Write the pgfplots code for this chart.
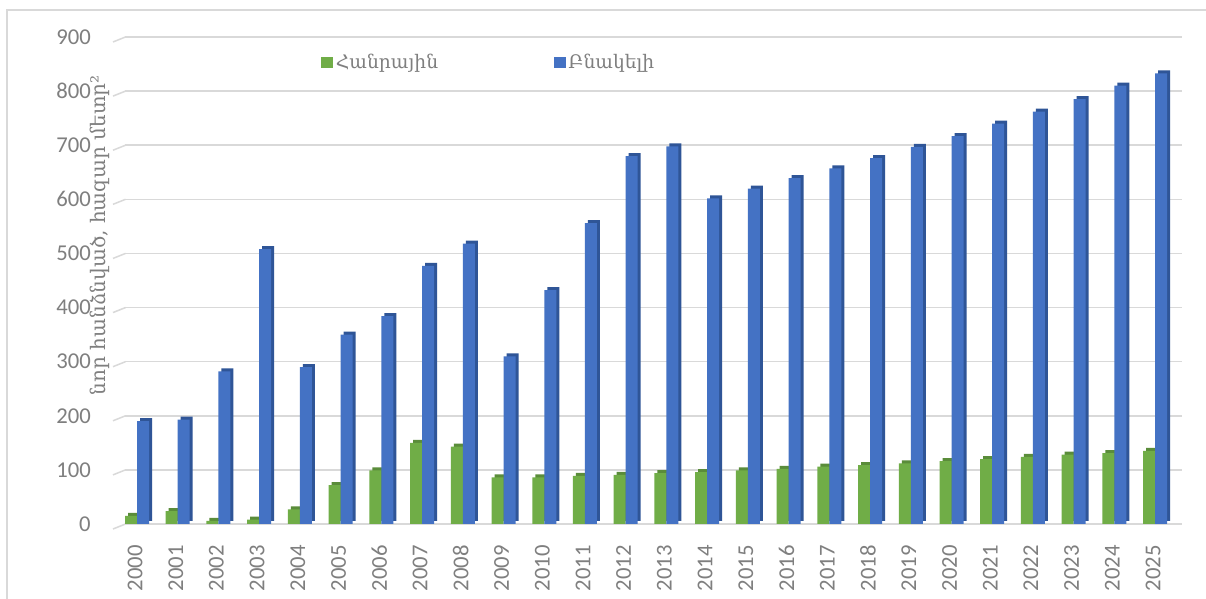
\documentclass[border=0pt]{standalone}
\usepackage{fontspec}
\setmainfont{Carlito}
\newfontfamily\armfont{DejaVu Serif}
\usepackage{pgfplots}
\usepackage{pgfplotstable}
\pgfplotsset{compat=1.18}
\newlength\px \setlength\px{0.75pt}
\definecolor{cgreen}{HTML}{70AD47}
\definecolor{cgreenD}{HTML}{5A8C3A}
\definecolor{cblue}{HTML}{4472C4}
\definecolor{cblueD}{HTML}{2F5597}
\definecolor{cgrid}{HTML}{D9D9D9}
\definecolor{ctxt}{HTML}{7F7F7F}

\pgfplotstableread{
x g b
0 15 190
1 24 193
2 6 282
3 8 508
4 27 290
5 72 350
6 99 384
7 150 477
8 143 518
9 86 310
10 86 432
11 89 556
12 91 680
13 94 698
14 96 602
15 99 620
16 102 639
17 106 657
18 109 676
19 112 697
20 116 717
21 120 740
22 124 762
23 128 785
24 131 810
25 135 833
}\data

\begin{document}
\begin{tikzpicture}
\useasboundingbox (0,0) rectangle (1206\px,599\px);
\fill[white] (0,0) rectangle (1206\px,599\px);
\draw[cgrid, line width=1.5\px] (7\px,0) -- (7\px,589\px) -- (1206\px,589\px);
\foreach \k in {0,...,9} {
  \draw[cgrid, line width=1.5\px] (113\px, {(75+\k*487/9-5)*0.75pt}) -- (125.5\px, {(75+\k*487/9)*0.75pt});
}
\begin{axis}[
  at={(125\px,75\px)}, anchor=south west,
  width=1057\px, height=487\px, scale only axis,
  xmin=-0.295, xmax=25.66, ymin=0, ymax=900,
  axis line style={draw=none},
  major tick length=0pt,
  ytick={0,100,...,900},
  ymajorgrids, grid style={cgrid, line width=1.5\px},
  xtick={0,...,25},
  xticklabels={2000,2001,2002,2003,2004,2005,2006,2007,2008,2009,2010,2011,2012,2013,2014,2015,2016,2017,2018,2019,2020,2021,2022,2023,2024,2025},
  tick label style={font=\fontsize{17}{19}\selectfont, text=ctxt},
  xticklabel style={yshift=-21\px, xshift=-2\px, rotate=90, anchor=east, inner sep=0pt},
  yticklabel style={anchor=east, inner sep=0pt, xshift=-34\px},
  /pgf/number format/assume math mode=true,
  ylabel={\armfont\fontsize{15}{17}\selectfont նոր հանձնված, հազար մետր²},
  ylabel style={at={(rel axis cs:-0.0237,0.593)}, anchor=center, text=ctxt, inner sep=0pt},
  legend columns=2,
  legend style={at={(rel axis cs:0.1854,0.9476)}, anchor=west, draw=none, fill=none, inner sep=0pt,
    font=\armfont\fontsize{14}{16}\selectfont, text=ctxt,
    /tikz/every even column/.append style={column sep=113\px}},
  legend cell align=left,
]
\addplot[ybar, bar width=12\px, bar shift=-3\px, yshift=3\px, fill=cgreenD, draw=none, forget plot] table[x=x,y=g]{\data};
\addplot[ybar, bar width=12\px, bar shift=-6\px, fill=cgreen, draw=none,
  legend image code/.code={\fill[cgreen] (0,-5.5\px) rectangle (12\px,5.5\px);}] table[x=x,y=g]{\data};
\addlegendentry{Հանրային}
\addplot[ybar, bar width=12\px, bar shift=9\px, yshift=3\px, fill=cblueD, draw=none, forget plot] table[x=x,y=b]{\data};
\addplot[ybar, bar width=12\px, bar shift=6\px, fill=cblue, draw=none,
  legend image code/.code={\fill[cblue] (0,-5.5\px) rectangle (12\px,5.5\px);}] table[x=x,y=b]{\data};
\addlegendentry{Բնակելի}
\end{axis}
\end{tikzpicture}
\end{document}
